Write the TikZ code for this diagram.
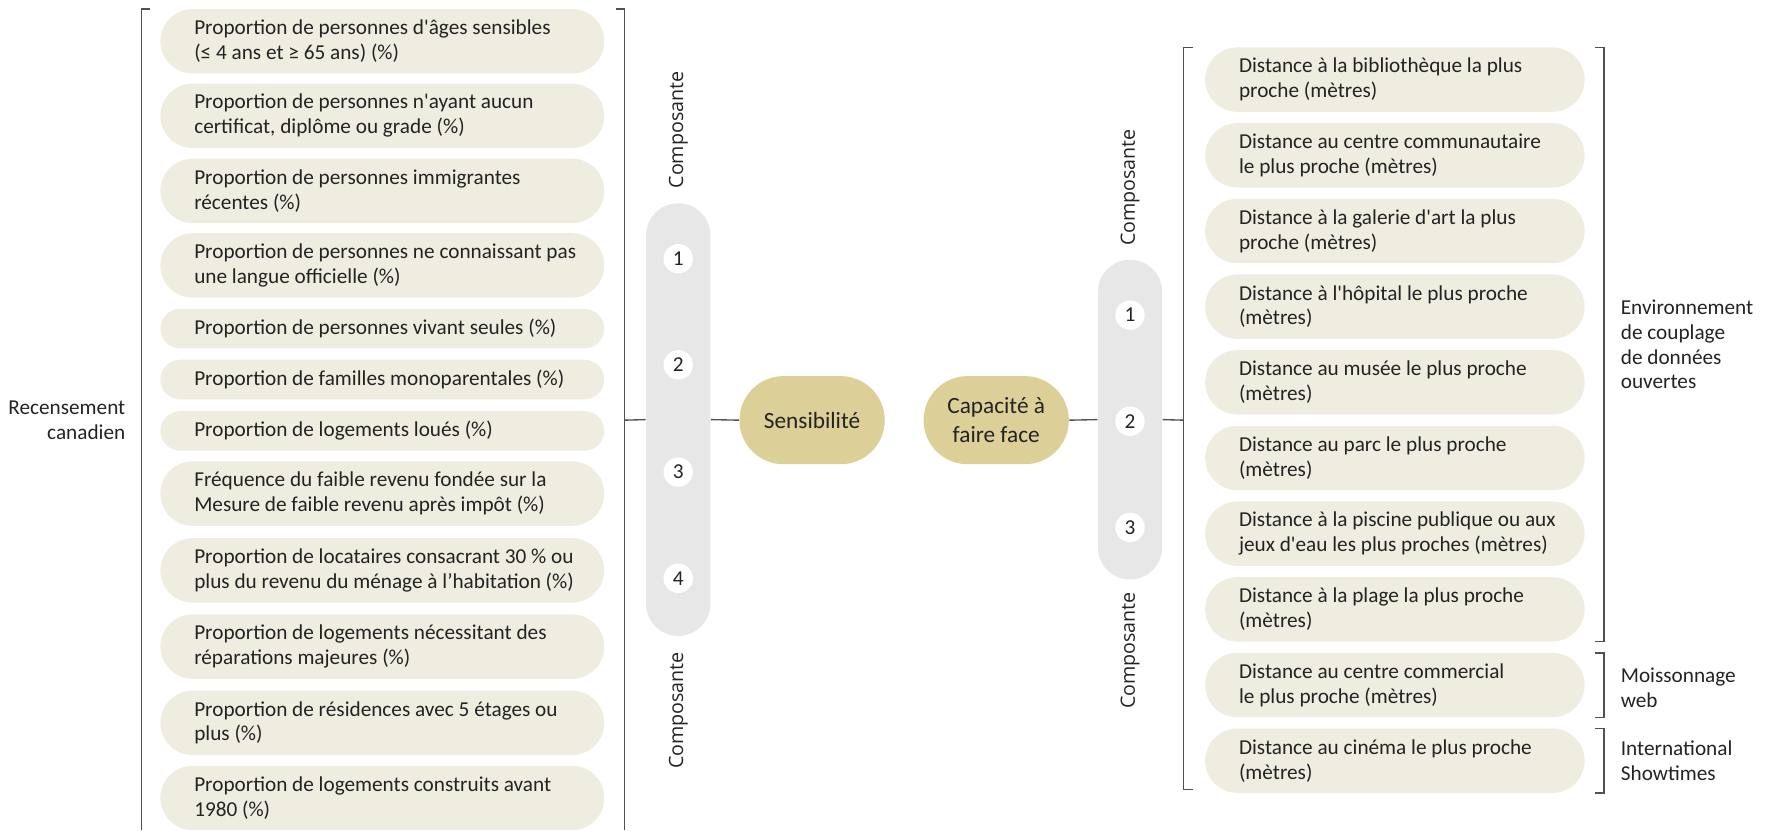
\documentclass[tikz,border=0pt]{standalone}
\usepackage{fontspec}
\setmainfont{Carlito}[Ligatures=TeXOff]
\newfontfamily\compfont{Open Sans}
\usepackage{tikz}
\usetikzlibrary{shapes.misc}
\definecolor{itemfill}{RGB}{239,236,224}
\definecolor{dimfill}{RGB}{221,207,152}
\definecolor{trackfill}{RGB}{231,231,231}
\definecolor{rulegray}{RGB}{80,80,80}
\definecolor{inkgray}{RGB}{35,35,35}
\tikzset{
	every node/.style={text=inkgray, font=\fontsize{9.4}{11}\selectfont}
}
\tikzstyle{itembox}=[rounded rectangle, fill=itemfill, inner sep=0pt]
\tikzstyle{lefttwo}=[itembox, minimum width=196.5pt, minimum height=28.5pt]
\tikzstyle{leftone}=[lefttwo, minimum height=17.5pt]
\tikzstyle{righttwo}=[itembox, minimum width=168pt, minimum height=28.5pt]
\tikzstyle{itemtext}=[anchor=west, inner sep=0pt, align=flush left]
\tikzstyle{dimbox}=[rounded rectangle, fill=dimfill, minimum width=71pt, minimum height=39pt, align=center, font=\fontsize{10.3}{12.5}\selectfont]
\tikzstyle{track}=[rectangle, rounded corners=14.2pt, fill=trackfill, minimum width=28.5pt]
\tikzstyle{numdot}=[circle, fill=white, minimum size=13pt, inner sep=0pt]
\tikzstyle{complabel}=[rotate=90, font=\compfont\fontsize{8.7}{10}\selectfont]
\tikzstyle{bracket}=[draw=rulegray, line width=0.6pt]
\newcommand{\pillitem}[4]{
	\node[#2] (#1) at #3 {};
	\node[itemtext] (#1t) at ([xshift=15pt]#1.west) {#4};
}

\begin{document}
\begin{tikzpicture}[x=0.5pt, y=-0.5pt]
	\useasboundingbox (0,0) rectangle (1568,735);
	\pillitem{s1}{lefttwo}{(338.5,36.5)}{Proportion de personnes d'âges sensibles\\(≤ 4 ans et ≥ 65 ans) (\%)}
	\pillitem{s2}{lefttwo}{(338.5,102.5)}{Proportion de personnes n'ayant aucun\\certificat, diplôme ou grade (\%)}
	\pillitem{s3}{lefttwo}{(338.5,169)}{Proportion de personnes immigrantes\\récentes (\%)}
	\pillitem{s4}{lefttwo}{(338.5,235)}{Proportion de personnes ne connaissant pas\\une langue officielle (\%)}
	\pillitem{s5}{leftone}{(338.5,291)}{Proportion de personnes vivant seules (\%)}
	\pillitem{s6}{leftone}{(338.5,336)}{Proportion de familles monoparentales (\%)}
	\pillitem{s7}{leftone}{(338.5,381.5)}{Proportion de logements loués (\%)}
	\pillitem{s8}{lefttwo}{(338.5,437)}{Fréquence du faible revenu fondée sur la\\Mesure de faible revenu après impôt (\%)}
	\pillitem{s9}{lefttwo}{(338.5,505)}{Proportion de locataires consacrant 30~\% ou\\plus du revenu du ménage à l’habitation (\%)}
	\pillitem{s10}{lefttwo}{(338.5,572.5)}{Proportion de logements nécessitant des\\réparations majeures (\%)}
	\pillitem{s11}{lefttwo}{(338.5,640)}{Proportion de résidences avec 5 étages ou\\plus (\%)}
	\pillitem{s12}{lefttwo}{(338.5,706.5)}{Proportion de logements construits avant\\1980 (\%)}
	\draw[bracket] (133,8) -- (125,8) -- (125,735);
	\draw[bracket] (545,8) -- (553,8) -- (553,735);
	\coordinate (lbr) at (553,372);
	\node[anchor=east, align=right] (recens) at (118,372) {Recensement\\canadien};
	\node[track, minimum height=191.5pt] (ltrack) at (600.5,371.5) {};
	\foreach \n/\y in {1/229,2/323,3/418,4/512}
		\node[numdot] (lnum\n) at (600.5,\y) {\n};
	\node[complabel] (lcomptop) at (600.5,115) {Composante};
	\node[complabel] (lcompbot) at (600.5,629) {Composante};
	\node[dimbox] (sens) at (719,372) {Sensibilité};
	\node[dimbox] (cap) at (882,372) {Capacité à\\faire face};
	\node[track, minimum height=141.5pt] (rtrack) at (1000.5,371.5) {};
	\foreach \n/\y in {1/279,2/373,3/467}
		\node[numdot] (rnum\n) at (1000.5,\y) {\n};
	\node[complabel] (rcomptop) at (1000.5,166) {Composante};
	\node[complabel] (rcompbot) at (1000.5,576) {Composante};
	\coordinate (rbr) at (1048,372);
	\draw[bracket] (lbr) -- (ltrack.west);
	\draw[bracket] (ltrack.east) -- (sens.west);
	\draw[bracket] (cap.east) -- (rtrack.west);
	\draw[bracket] (rtrack.east) -- (rbr);
	\pillitem{c1}{righttwo}{(1235,70.5)}{Distance à la bibliothèque la plus\\proche (mètres)}
	\pillitem{c2}{righttwo}{(1235,137.5)}{Distance au centre communautaire\\le plus proche (mètres)}
	\pillitem{c3}{righttwo}{(1235,204.5)}{Distance à la galerie d'art la plus\\proche (mètres)}
	\pillitem{c4}{righttwo}{(1235,271.5)}{Distance à l'hôpital le plus proche\\(mètres)}
	\pillitem{c5}{righttwo}{(1235,338.5)}{Distance au musée le plus proche\\(mètres)}
	\pillitem{c6}{righttwo}{(1235,405.5)}{Distance au parc le plus proche\\(mètres)}
	\pillitem{c7}{righttwo}{(1235,472.5)}{Distance à la piscine publique ou aux\\jeux d'eau les plus proches (mètres)}
	\pillitem{c8}{righttwo}{(1235,539.5)}{Distance à la plage la plus proche\\(mètres)}
	\pillitem{c9}{righttwo}{(1235,606.5)}{Distance au centre commercial\\le plus proche (mètres)}
	\pillitem{c10}{righttwo}{(1235,673.5)}{Distance au cinéma le plus proche\\(mètres)}
	\draw[bracket] (1056,42) -- (1048,42) -- (1048,699) -- (1056,699);
	\draw[bracket] (1412,42) -- (1420,42) -- (1420,568) -- (1412,568);
	\draw[bracket] (1412,578) -- (1420,578) -- (1420,635) -- (1412,635);
	\draw[bracket] (1412,645) -- (1420,645) -- (1420,702) -- (1412,702);
	\node[anchor=west, align=left] (env) at (1428,305) {Environnement\\de couplage\\de données\\ouvertes};
	\node[anchor=west, align=left] (web) at (1428,609) {Moissonnage\\web};
	\node[anchor=west, align=left] (show) at (1428,673.5) {International\\Showtimes};
\end{tikzpicture}
\end{document}
